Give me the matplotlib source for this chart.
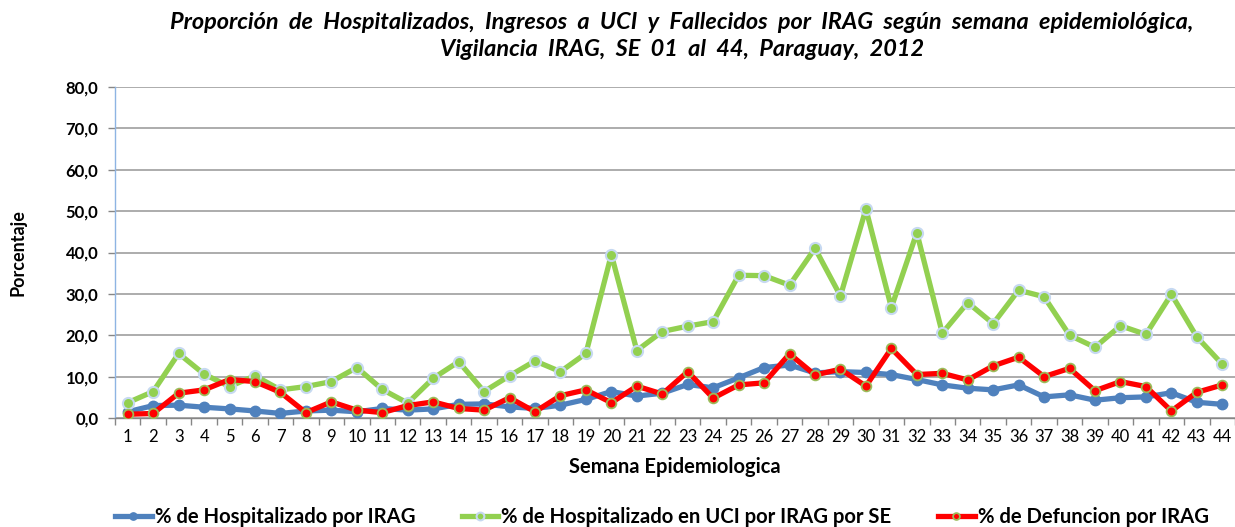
import matplotlib
matplotlib.use("Agg")
import matplotlib.pyplot as plt
from matplotlib.ticker import FuncFormatter, MultipleLocator, FixedLocator

weeks = list(range(1, 45))
hosp = [1.5, 3.0, 3.1, 2.6, 2.2, 1.7, 1.1, 1.7, 1.9, 1.5, 2.3, 1.9,
        2.2, 3.3, 3.4, 2.7, 2.3, 3.1, 4.5, 6.4, 5.3, 6.0, 8.1, 7.3,
        9.7, 12.2, 12.8, 10.9, 11.2, 11.0, 10.5, 9.3, 8.0, 7.2, 6.8, 8.0,
        5.1, 5.6, 4.3, 4.9, 5.1, 6.1, 3.8, 3.3]
uci = [3.7, 6.4, 15.6, 10.6, 7.6, 10.2, 6.8, 7.6, 8.8, 12.2, 6.9, 3.6,
       9.6, 13.6, 6.4, 10.2, 13.8, 11.2, 15.6, 39.5, 16.3, 20.9, 22.2, 23.3,
       34.5, 34.4, 32.1, 41.0, 29.5, 50.5, 26.7, 44.8, 20.5, 27.9, 22.8, 30.9,
       29.3, 20.0, 17.1, 22.3, 20.2, 29.9, 19.6, 13.0]
defun = [0.9, 1.1, 6.0, 6.8, 9.3, 8.8, 6.2, 1.3, 3.9, 1.9, 1.3, 3.0,
         3.9, 2.3, 1.9, 4.9, 1.5, 5.4, 6.8, 3.7, 7.7, 5.8, 11.2, 4.8,
         8.0, 8.5, 15.5, 10.4, 11.8, 7.7, 16.8, 10.5, 10.8, 9.2, 12.6, 14.7,
         10.0, 12.0, 6.6, 8.8, 7.6, 1.7, 6.2, 8.0]

labels = ["% de Hospitalizado por IRAG",
          "% de Hospitalizado en UCI por IRAG por SE",
          "% de Defuncion por IRAG"]
title = ("Proporción  de  Hospitalizados,  Ingresos  a  UCI  y  Fallecidos  por  IRAG  según  semana  epidemiológica,\n"
         "Vigilancia  IRAG,  SE  01  al  44,  Paraguay,  2012")

FONT = "Lato"
plt.rcParams['font.family'] = [FONT, 'DejaVu Sans']

W, H = 1235, 527
fig = plt.figure(figsize=(W / 100, H / 100), dpi=100)
ax = fig.add_axes([115 / W, (H - 418) / H, 1120 / W, (418 - 87) / H])

ax.plot(weeks, hosp, color="#4f81bd", lw=3.8, marker="o", ms=7.5,
        mfc="#4f81bd", mec="#4f81bd", mew=1, label=labels[0], zorder=3)
ax.plot(weeks, uci, color="#92d050", lw=3.8, marker="o", ms=8,
        mfc="#92d050", mec="#c6d9f1", mew=1.5, label=labels[1], zorder=4)
ax.plot(weeks, defun, color="#ff0000", lw=3.8, marker="o", ms=7,
        mfc="#ff0000", mec="#9bbb59", mew=1.3, label=labels[2], zorder=5)

ax.set_xlim(0.5, 44.5)
ax.set_ylim(0, 80)
ax.yaxis.set_major_locator(MultipleLocator(10))
ax.yaxis.set_major_formatter(FuncFormatter(lambda v, p: f"{v:.1f}".replace(".", ",")))
ax.grid(axis="y", color="#a6a6a6", lw=1.3)
ax.set_axisbelow(True)

ax.set_xticks(weeks)
ax.set_xticklabels([str(w) for w in weeks], fontsize=12)
ax.xaxis.set_minor_locator(FixedLocator([w + 0.5 for w in range(0, 45)]))
ax.tick_params(axis="x", which="major", length=0, pad=8)
ax.tick_params(axis="x", which="minor", length=5, color="#868686", width=1)
ax.tick_params(axis="y", length=5, color="#868686", width=1, pad=7)
for t in ax.get_yticklabels():
    t.set_fontweight("bold")
    t.set_fontsize(12)

for s in ["top", "right"]:
    ax.spines[s].set_visible(False)
ax.spines["left"].set_color("#8eb4e3")
ax.spines["left"].set_linewidth(1)
ax.spines["bottom"].set_color("#868686")
ax.spines["bottom"].set_linewidth(1)

ax.set_ylabel("Porcentaje", fontsize=13, fontweight="bold")
ax.yaxis.set_label_coords(-97 / 1120, 0.5)
ax.yaxis.label.set_va("center")
ax.set_xlabel("Semana Epidemiologica", fontsize=14.5, fontweight="bold")
ax.xaxis.set_label_coords(0.5, -(467 - 418) / (418 - 87))
ax.xaxis.label.set_va("center")

fig.text(682 / W, 1 - 36 / H, title, ha="center", va="center", fontsize=16.9,
         fontweight="bold", fontstyle="italic", linespacing=1.4)

leg = fig.legend(loc="center", bbox_to_anchor=(662 / W, 1 - 517 / H), ncol=3,
                 frameon=False, prop={"weight": "bold", "size": 14.6},
                 handlelength=1.8, handletextpad=0.15, columnspacing=2.3,
                 markerscale=0.7)

fig.savefig("out.png", dpi=100)
